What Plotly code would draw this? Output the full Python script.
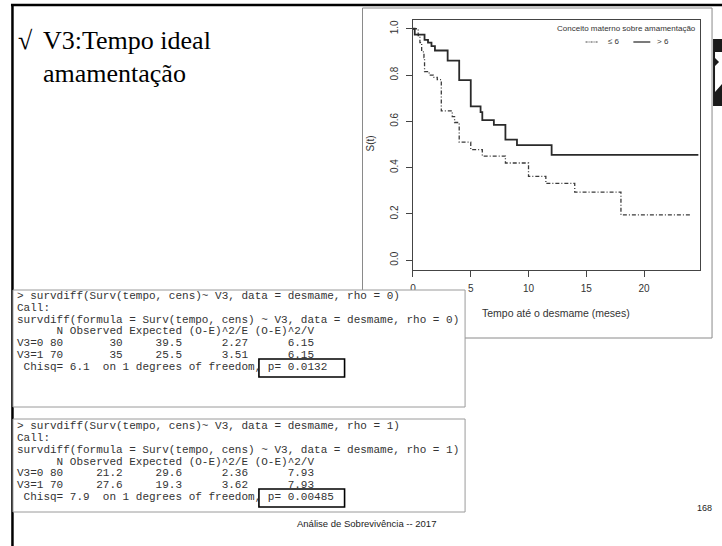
import plotly.graph_objects as go

W, H = 722, 546

# ---- data ----
t_le6 = [0, 0.45, 0.6, 0.75, 0.95, 1.0, 1.4, 1.75, 2.1, 2.45, 3.4, 3.6, 4.0, 5.0, 6.0, 8.0, 10.0, 11.5, 14.0, 18.0, 24.0]
s_le6 = [1.0, 0.97, 0.94, 0.90, 0.875, 0.815, 0.80, 0.79, 0.78, 0.645, 0.62, 0.595, 0.51, 0.478, 0.45, 0.42, 0.362, 0.332, 0.294, 0.196, 0.196]
t_gt6 = [0, 0.15, 1.0, 1.3, 1.6, 1.9, 3.0, 4.0, 5.0, 5.85, 6.0, 7.0, 8.0, 9.0, 12.0, 24.7]
s_gt6 = [1.0, 0.975, 0.952, 0.94, 0.925, 0.906, 0.862, 0.778, 0.665, 0.64, 0.605, 0.585, 0.521, 0.497, 0.455, 0.455]
x_ticks = [0, 5, 10, 15, 20]
y_ticks = [0.0, 0.2, 0.4, 0.6, 0.8, 1.0]
y_ticklabels = ["0.0", "0.2", "0.4", "0.6", "0.8", "1.0"]

console_rho0 = [
    "> survdiff(Surv(tempo, cens)~ V3, data = desmame, rho = 0)",
    "Call:",
    "survdiff(formula = Surv(tempo, cens) ~ V3, data = desmame, rho = 0)",
    "      N Observed Expected (O-E)^2/E (O-E)^2/V",
    "V3=0 80       30     39.5      2.27      6.15",
    "V3=1 70       35     25.5      3.51      6.15",
    " Chisq= 6.1  on 1 degrees of freedom, p= 0.0132",
]
console_rho1 = [
    "> survdiff(Surv(tempo, cens)~ V3, data = desmame, rho = 1)",
    "Call:",
    "survdiff(formula = Surv(tempo, cens) ~ V3, data = desmame, rho = 1)",
    "      N Observed Expected (O-E)^2/E (O-E)^2/V",
    "V3=0 80     21.2     29.6      2.36      7.93",
    "V3=1 70     27.6     19.3      3.62      7.93",
    " Chisq= 7.9  on 1 degrees of freedom, p= 0.00485",
]


def px(x):
    return x / W


def py(y):
    return 1 - y / H


fig = go.Figure()
fig.add_trace(go.Scatter(x=t_le6, y=s_le6, mode="lines", line_shape="hv",
                         line=dict(color="#3a3a3a", width=1.3, dash="4px,2px,1px,2px"),
                         showlegend=False, hoverinfo="skip"))
fig.add_trace(go.Scatter(x=t_gt6, y=s_gt6, mode="lines", line_shape="hv",
                         line=dict(color="#2a2a2a", width=1.8),
                         showlegend=False, hoverinfo="skip"))

shapes = []
annotations = []


def rect(x0, y0, x1, y1, color, lw, fill="rgba(0,0,0,0)", layer="below"):
    shapes.append(dict(type="rect", xref="paper", yref="paper",
                       x0=px(x0), x1=px(x1), y0=py(y1), y1=py(y0),
                       line=dict(color=color, width=lw), fillcolor=fill, layer=layer))


def line(x0, y0, x1, y1, color, lw, dash="solid", layer="below"):
    shapes.append(dict(type="line", xref="paper", yref="paper",
                       x0=px(x0), x1=px(x1), y0=py(y0), y1=py(y1),
                       line=dict(color=color, width=lw, dash=dash), layer=layer))


def text(x, y, s, size, family="Liberation Sans", color="#222", xanchor="left", angle=0):
    annotations.append(dict(xref="paper", yref="paper", x=px(x), y=py(y), text=s,
                            showarrow=False, xanchor=xanchor, yanchor="middle",
                            textangle=angle, font=dict(size=size, family=family, color=color)))


# slide frame
line(8, 5, 722, 5, "#000", 2.5)
line(9.5, 4, 9.5, 546, "#000", 2.5)

# plot image frame
rect(361, 8, 712, 338, "#8a8a8a", 1)

# logo fragment at the right edge
shapes.append(dict(type="path", xref="paper", yref="paper",
                   path=f"M {px(713)} {py(39)} L {px(722)} {py(39)} L {px(722)} {py(106)} L {px(713)} {py(106)} Z",
                   fillcolor="#1a1a1a", line=dict(width=0), layer="below"))
shapes.append(dict(type="path", xref="paper", yref="paper",
                   path=f"M {px(715)} {py(52)} L {px(722)} {py(52)} L {px(722)} {py(84)} L {px(715)} {py(92)} L {px(715)} {py(66)} L {px(719)} {py(62)} L {px(715)} {py(58)} Z",
                   fillcolor="#ffffff", line=dict(width=0), layer="below"))

# axis titles / legend of the survival plot
text(370, 143, "S(t)", 10, color="#333", xanchor="center", angle=-90)
text(555, 313, "Tempo até o desmame (meses)", 10.5, color="#333", xanchor="center")
text(698, 28, "Conceito materno sobre amamentação", 8, color="#333", xanchor="right")
line(585, 42, 598, 42, "#444", 1.2, dash="2px,1px,1px,1px")
text(606, 42, "≤ 6", 8, color="#333")
line(633, 42, 650, 42, "#333", 1.3)
text(655, 42, "> 6", 8, color="#333")

# slide title
text(13, 41, "√", 26, family="Liberation Serif", color="#000")
text(38, 41, "V3:Tempo ideal", 26, family="Liberation Serif", color="#000")
text(38, 74, "amamentação", 26, family="Liberation Serif", color="#000")

# console screenshots
rect(10, 290, 464, 407, "#9a9a9a", 1, fill="#ffffff", layer="above")
rect(10, 419, 464, 512, "#9a9a9a", 1, fill="#ffffff", layer="above")
for i, s in enumerate(console_rho0):
    text(12, 296 + i * 11.8, s.replace(" ", "\u00a0"), 11, family="Liberation Mono", color="#333")
for i, s in enumerate(console_rho1):
    text(12, 426.2 + i * 11.8, s.replace(" ", "\u00a0"), 11, family="Liberation Mono", color="#333")
rect(257, 359, 343, 377, "#000", 1.6, layer="above")
rect(257, 489, 343, 507, "#000", 1.6, layer="above")

# footer
text(293, 523, "Análise de Sobrevivência -- 2017", 9.5, color="#222")
text(704, 508, "168", 9, color="#222", xanchor="center")

fig.update_layout(
    width=W, height=H, margin=dict(l=0, r=0, t=0, b=0),
    paper_bgcolor="#ffffff", plot_bgcolor="#ffffff",
    showlegend=False,
    xaxis=dict(domain=[px(411.7), px(700)], range=[0, 24.85], tickvals=x_ticks,
               ticks="outside", ticklen=6, tickcolor="#444", showline=True, mirror=True,
               linecolor="#444", linewidth=1, showgrid=False, zeroline=False,
               ticklabelstandoff=3,
               tickfont=dict(size=10, family="Liberation Sans", color="#333")),
    yaxis=dict(domain=[py(269.5), py(19.5)], range=[-0.04, 1.04], tickvals=y_ticks,
               ticktext=y_ticklabels, tickangle=-90, ticklabelstandoff=4,
               ticks="outside", ticklen=6, tickcolor="#444", showline=True, mirror=True,
               linecolor="#444", linewidth=1, showgrid=False, zeroline=False,
               tickfont=dict(size=10, family="Liberation Sans", color="#333")),
    shapes=shapes,
    annotations=annotations,
)

fig.write_html("out.html", config={"displayModeBar": False},
               post_script="document.body.style.margin='0';document.body.style.overflow='hidden';")
